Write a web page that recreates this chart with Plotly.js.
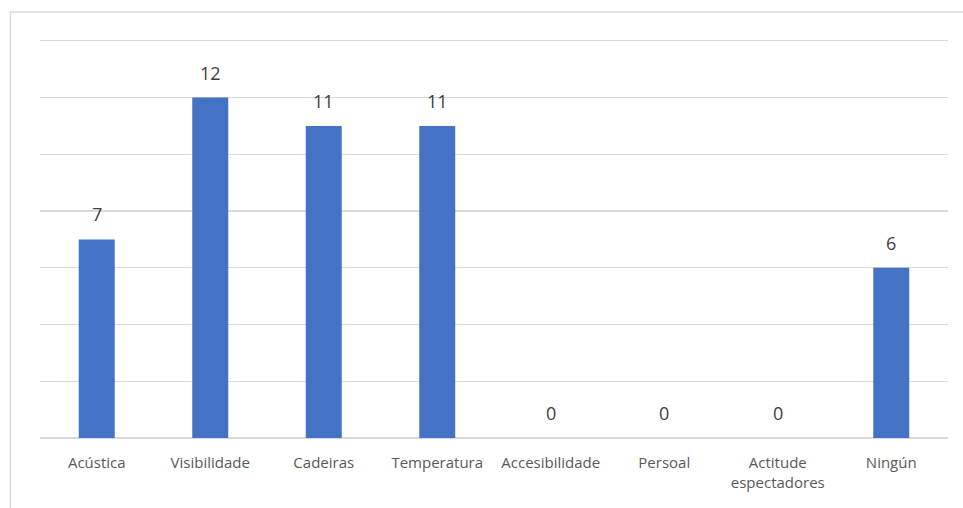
<!DOCTYPE html>
<html><head><meta charset="utf-8">
<script src="https://cdn.plot.ly/plotly-3.0.1.min.js"></script>
<style>html,body{margin:0;padding:0;background:#fff}</style>
</head><body>
<div id="chart" style="width:963px;height:508px"></div>
<script>
const categories = ["Acústica","Visibilidade","Cadeiras","Temperatura","Accesibilidade","Persoal","Actitude<br>espectadores","Ningún"];
const values = [7,12,11,11,0,0,0,6];
const yTicks = [0,2,4,6,8,10,12,14];

const L=40,R=15,T=38,B=70,W=963,H=508;
const pw=W-L-R, ph=H-T-B;
const px=x=>(x-L)/pw, py=y=>(H-B-y)/ph;

const trace = {
  type:'bar', x:categories, y:values,
  marker:{color:'#4472c4'},
  hoverinfo:'none'
};
const annotations = categories.map((c,i)=>({
  x:c, y:values[i], xref:'x', yref:'y', text:String(values[i]),
  showarrow:false, yanchor:'bottom', yshift:11,
  font:{family:'Open Sans, sans-serif', size:18, color:'#404040'}
}));
const layout = {
  width:W, height:H,
  margin:{l:L,r:R,t:T,b:B},
  paper_bgcolor:'#fff', plot_bgcolor:'#fff',
  bargap:0.683,
  showlegend:false,
  font:{family:'Open Sans, sans-serif', size:15, color:'#595959'},
  xaxis:{type:'category', showgrid:false, zeroline:false, showline:false, ticks:'', ticklabelstandoff:14,
    tickfont:{size:15, color:'#595959'}, fixedrange:true},
  yaxis:{range:[0,14.1], tickvals:yTicks, showticklabels:false, showgrid:true, gridcolor:'#d9d9d9', gridwidth:1.3,
    zeroline:true, zerolinecolor:'#d9d9d9', zerolinewidth:1.5, ticks:'', fixedrange:true},
  annotations:annotations,
  shapes:[{type:'rect', xref:'paper', yref:'paper', x0:px(10.5), x1:px(975), y0:py(12), y1:py(520),
    line:{color:'#d9d9d9', width:1.5}, fillcolor:'rgba(0,0,0,0)', layer:'below'}]
};
Plotly.newPlot('chart',[trace],layout,{displayModeBar:false,staticPlot:true});
</script>
</body></html>
